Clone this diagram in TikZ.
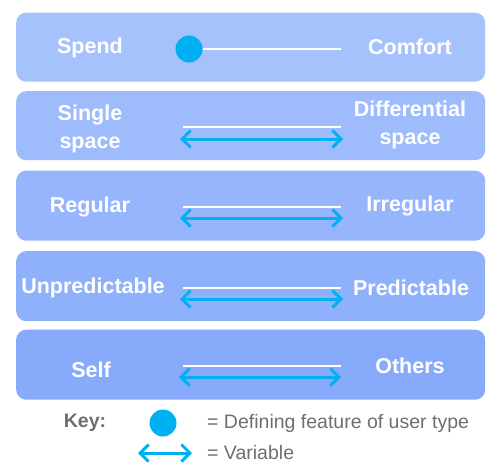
\documentclass[tikz,border=0pt]{standalone}
\usepackage{fontspec}
\setmainfont{Liberation Sans}
\usetikzlibrary{arrows.meta}
\definecolor{bandA}{HTML}{A6C2FD}
\definecolor{bandB}{HTML}{9EBBFC}
\definecolor{bandC}{HTML}{96B5FC}
\definecolor{bandD}{HTML}{8FB0FB}
\definecolor{bandE}{HTML}{87AAFB}
\definecolor{cyanmark}{HTML}{00B0F0}
\definecolor{keygrey}{HTML}{6E6E6E}
\tikzset{
  band/.style={draw=none, rounded corners=10pt, inner sep=0pt, anchor=north west,
    minimum width=469pt},
  bandtext/.style={text=white, font=\fontsize{21.5}{28}\selectfont\bfseries, align=center, inner sep=0pt},
  scaleline/.style={draw=white, line width=1.5pt},
  varrow/.style={draw=cyanmark, line width=3pt,
    {Straight Barb[length=8.5pt,width=17pt]}-{Straight Barb[length=8.5pt,width=17pt]}},
  featdot/.style={circle, fill=cyanmark, minimum size=27pt, inner sep=0pt},
  keytext/.style={text=keygrey, font=\fontsize{19.5}{22}\selectfont, anchor=west, inner sep=0pt}
}
\begin{document}
\begin{tikzpicture}[x=1pt, y=-1pt]
\useasboundingbox (0,0) rectangle (487,463);

% bands
\node[band, fill=bandA, minimum height=69pt] (b1) at (16,12.5) {};
\node[band, fill=bandB, minimum height=69pt] (b2) at (16,91) {};
\node[band, fill=bandC, minimum height=70pt] (b3) at (16,170.5) {};
\node[band, fill=bandD, minimum height=70pt] (b4) at (16,251) {};
\node[band, fill=bandE, minimum height=70pt] (b5) at (16,329.5) {};

% row 1: Spend -- Comfort
\node[bandtext] (l1) at (90,48) {Spend};
\node[bandtext] (r1) at (410,47) {Comfort};
\node[featdot] (d1) at (189,49) {};
\coordinate (e1) at (341,49);
\draw[scaleline] (d1.east) -- (e1);

% row 2: Single space -- Differential space
\node[bandtext] (l2) at (90,128.5) {Single\\space};
\node[bandtext] (r2) at (410,124.5) {Differential\\space};
\coordinate (s2a) at (183,127); \coordinate (s2b) at (341,127);
\coordinate (a2a) at (180,139); \coordinate (a2b) at (343,139);
\draw[scaleline] (s2a) -- (s2b);
\draw[varrow] (a2a) -- (a2b);

% row 3: Regular -- Irregular
\node[bandtext] (l3) at (90,207) {Regular};
\node[bandtext] (r3) at (410,206) {Irregular};
\coordinate (s3a) at (183,207); \coordinate (s3b) at (341,207);
\coordinate (a3a) at (180,218); \coordinate (a3b) at (343,218);
\draw[scaleline] (s3a) -- (s3b);
\draw[varrow] (a3a) -- (a3b);

% row 4: Unpredictable -- Predictable
\node[bandtext] (l4) at (93,288) {Unpredictable};
\node[bandtext] (r4) at (411,288) {Predictable};
\coordinate (s4a) at (183,288); \coordinate (s4b) at (341,288);
\coordinate (a4a) at (180,299); \coordinate (a4b) at (343,299);
\draw[scaleline] (s4a) -- (s4b);
\draw[varrow] (a4a) -- (a4b);

% row 5: Self -- Others
\node[bandtext] (l5) at (91,370) {Self};
\node[bandtext] (r5) at (410,366) {Others};
\coordinate (s5a) at (183,366); \coordinate (s5b) at (341,366);
\coordinate (a5a) at (179,377); \coordinate (a5b) at (341,377);
\draw[scaleline] (s5a) -- (s5b);
\draw[varrow] (a5a) -- (a5b);

% key
\node[text=keygrey, font=\fontsize{19.5}{22}\selectfont\bfseries, inner sep=0pt] (key) at (85,423) {Key:};
\node[featdot] (kd) at (163,423) {};
\node[keytext] (kt1) at (207,423) {= Defining feature of user type};
\coordinate (ka) at (138,453); \coordinate (kb) at (192,453);
\draw[varrow] (ka) -- (kb);
\node[keytext] (kt2) at (207,453) {= Variable};
\end{tikzpicture}
\end{document}
